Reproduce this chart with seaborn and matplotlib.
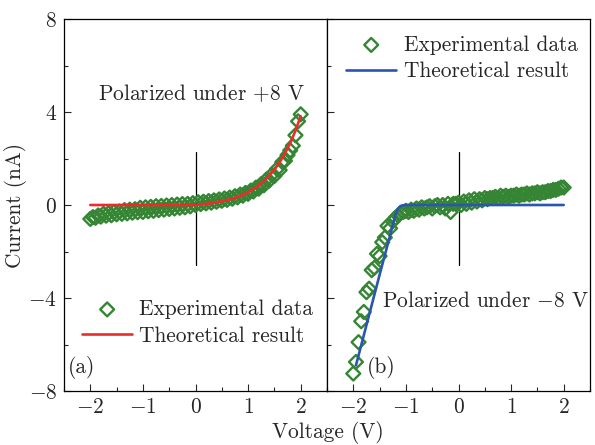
import matplotlib
matplotlib.use("Agg")
import matplotlib.pyplot as plt
import seaborn as sns
import pandas as pd

# voltage grid of the measurements (V)
volt = [-2.00, -1.95, -1.90, -1.85, -1.80, -1.75, -1.70, -1.65, -1.60, -1.55,
        -1.50, -1.45, -1.40, -1.35, -1.30, -1.25, -1.20, -1.15, -1.10, -1.05,
        -1.00, -0.95, -0.90, -0.85, -0.80, -0.75, -0.70, -0.65, -0.60, -0.55,
        -0.50, -0.45, -0.40, -0.35, -0.30, -0.25, -0.20, -0.15, -0.10, -0.05,
        0.00, 0.05, 0.10, 0.15, 0.20, 0.25, 0.30, 0.35, 0.40, 0.45,
        0.50, 0.55, 0.60, 0.65, 0.70, 0.75, 0.80, 0.85, 0.90, 0.95,
        1.00, 1.05, 1.10, 1.15, 1.20, 1.25, 1.30, 1.35, 1.40, 1.45,
        1.50, 1.55, 1.60, 1.65, 1.70, 1.75, 1.80, 1.85, 1.90, 1.95, 2.00]

# (a) polarized under +8 V, measured current (nA)
cur_a = [-0.60, -0.52, -0.55, -0.45, -0.50, -0.38, -0.46, -0.35, -0.44, -0.30,
         -0.40, -0.28, -0.38, -0.22, -0.36, -0.20, -0.33, -0.18, -0.31, -0.12,
         -0.30, -0.10, -0.27, -0.08, -0.25, -0.05, -0.22, -0.04, -0.20, -0.02,
         -0.17, 0.00, -0.15, 0.02, -0.12, 0.04, -0.10, 0.05, -0.06, 0.08,
         0.00, 0.12, 0.04, 0.14, 0.07, 0.17, 0.10, 0.20, 0.14, 0.24,
         0.18, 0.28, 0.22, 0.32, 0.27, 0.38, 0.33, 0.45, 0.40, 0.52,
         0.48, 0.62, 0.58, 0.75, 0.70, 0.90, 0.85, 1.10, 1.05, 1.30,
         1.25, 1.55, 1.50, 1.85, 1.90, 2.15, 2.35, 2.55, 3.00, 3.60, 3.90]

# (b) polarized under -8 V, measured current (nA)
cur_b = [-7.25, -6.75, -5.90, -5.00, -4.60, -3.75, -3.60, -2.80, -2.70, -2.10,
         -2.20, -1.60, -1.40, -0.90, -1.00, -0.70, -0.55, -0.45, -0.35, -0.30,
         -0.25, -0.30, -0.20, -0.25, -0.15, -0.20, -0.10, -0.15, -0.10, -0.05,
         -0.15, -0.05, 0.00, -0.10, 0.00, -0.15, 0.05, -0.30, 0.05, 0.05,
         0.10, 0.00, 0.15, 0.05, 0.20, 0.10, 0.25, 0.15, 0.25, 0.20,
         0.30, 0.25, 0.30, 0.30, 0.35, 0.30, 0.40, 0.35, 0.40, 0.35,
         0.40, 0.40, 0.45, 0.40, 0.45, 0.45, 0.50, 0.45, 0.50, 0.50,
         0.55, 0.50, 0.55, 0.55, 0.60, 0.60, 0.65, 0.65, 0.70, 0.75, 0.75]

# theoretical curves
theo_v_a = [-2.0, -1.5, -1.0, -0.5, 0.0, 0.1, 0.2, 0.3, 0.4, 0.5, 0.6, 0.7,
            0.8, 0.9, 1.0, 1.1, 1.2, 1.3, 1.4, 1.5, 1.6, 1.7, 1.8, 1.9, 2.0]
theo_i_a = [0.0, 0.0, 0.0, 0.0, 0.0, 0.02, 0.05, 0.08, 0.12, 0.16, 0.21, 0.28,
            0.35, 0.44, 0.55, 0.68, 0.84, 1.03, 1.26, 1.52, 1.84, 2.22, 2.66, 3.19, 3.82]
theo_v_b = [-1.95, -1.5, -1.3, -1.25, -1.2, -1.15, -1.1, -1.05, -1.0, 0.0, 1.0, 2.0]
theo_i_b = [-6.9, -3.0, -1.3, -0.85, -0.45, -0.15, -0.04, -0.01, 0.0, 0.0, 0.0, 0.0]

green = "#358535"
red = "#ee2a2a"
blue = "#2a55b0"

sns.set_style("ticks")
plt.rcParams["font.family"] = ["cmr10", "DejaVu Serif"]
plt.rcParams["mathtext.fontset"] = "cm"
plt.rcParams["axes.formatter.use_mathtext"] = True
plt.rcParams["axes.unicode_minus"] = True

fs = 15.4

fig, (ax1, ax2) = plt.subplots(1, 2, sharey=True, figsize=(5.95, 4.45), dpi=100)
fig.subplots_adjust(left=64 / 595, right=590 / 595, top=1 - 19 / 445,
                    bottom=1 - 391 / 445, wspace=0)

panels = [
    (ax1, cur_a, theo_v_a, theo_i_a, red),
    (ax2, cur_b, theo_v_b, theo_i_b, blue),
]
for ax, cur, tv, ti, col in panels:
    ax.plot([0, 0], [-2.56, 2.3], color="black", lw=0.9, zorder=1)
    df = pd.DataFrame({"V": volt, "I": cur})
    sns.scatterplot(data=df, x="V", y="I", ax=ax, marker="D", s=50,
                    fc="none", ec=green, linewidth=1.7, zorder=2,
                    label="Experimental data")
    th = pd.DataFrame({"V": tv, "I": ti})
    sns.lineplot(data=th, x="V", y="I", ax=ax, color=col, lw=1.9, zorder=3,
                 sort=False, label="Theoretical result")
    ax.set_xlim(-2.5, 2.5)
    ax.set_ylim(-8, 8)
    ax.set_xticks([-2, -1, 0, 1, 2])
    ax.set_xticks([-1.5, -0.5, 0.5, 1.5, 2.5, -2.5], minor=True)
    ax.set_yticks([-8, -4, 0, 4, 8])
    ax.set_yticks([-6, -2, 2, 6], minor=True)
    ax.tick_params(which="major", direction="in", length=5, width=0.8,
                   labelsize=fs, pad=5)
    ax.tick_params(which="minor", direction="in", length=3, width=0.8)
    ax.set_xlabel("")
    ax.set_ylabel("")
    for sp in ax.spines.values():
        sp.set_linewidth(0.9)
        sp.set_color("black")

ax2.tick_params(axis="y", labelleft=False)

ax1.legend(loc="upper left", bbox_to_anchor=(0.036, 0.269), frameon=False,
           fontsize=fs, handlelength=2.35, handletextpad=0.32, labelspacing=0.33,
           borderaxespad=0)
ax2.legend(loc="upper left", bbox_to_anchor=(0.04, 0.98), frameon=False,
           fontsize=fs, handlelength=2.35, handletextpad=0.38, labelspacing=0.33,
           borderaxespad=0)

ax1.text(-1.86, 4.8, "Polarized under $+8$ V", fontsize=fs, ha="left", va="center")
ax2.text(-1.46, -4.15, "Polarized under $-8$ V", fontsize=fs, ha="left", va="center")
ax1.text(-2.42, -7.0, "(a)", fontsize=fs, ha="left", va="center")
ax2.text(-1.74, -7.0, "(b)", fontsize=fs, ha="left", va="center")

ax1.set_ylabel("Current (nA)", fontsize=fs)
ax1.yaxis.set_label_coords(-0.14, 0.5)
fig.text(328 / 595, 1 - 433 / 445, "Voltage (V)", fontsize=fs, ha="center", va="center")

fig.savefig("out.png", dpi=100)
